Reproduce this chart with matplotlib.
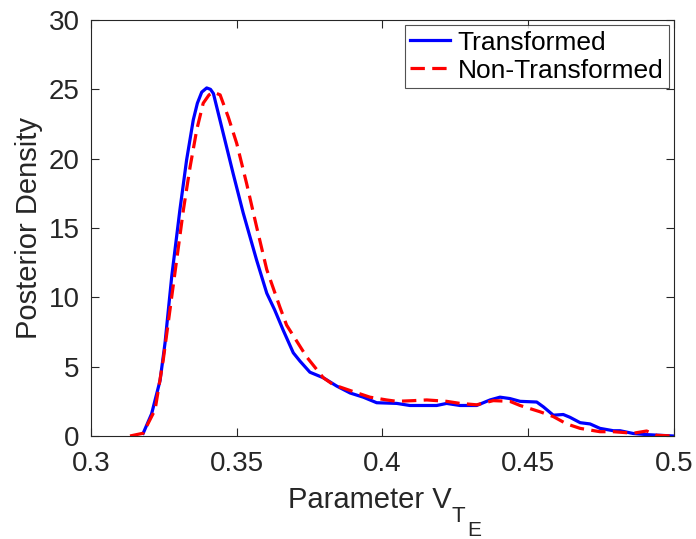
import matplotlib
matplotlib.use("Agg")
import matplotlib.pyplot as plt

plt.rcParams['font.family'] = ['Liberation Sans', 'DejaVu Sans']

# Transformed posterior (blue, solid)
x_tr = [0.3179, 0.3208, 0.3237, 0.3254, 0.3277, 0.3305, 0.3328, 0.3351, 0.3365,
        0.3380, 0.3397, 0.3410, 0.3420, 0.3454, 0.3488, 0.3522, 0.3568, 0.3603,
        0.3630, 0.3660, 0.3694, 0.3717, 0.3751, 0.3797, 0.3843, 0.3889, 0.3934,
        0.3980, 0.4049, 0.4094, 0.4186, 0.4220, 0.4266, 0.4323, 0.4369, 0.4403,
        0.4437, 0.4472, 0.4529, 0.4552, 0.4586, 0.4620, 0.4643, 0.4678, 0.4712,
        0.4746, 0.4792, 0.4815, 0.4860, 0.4906, 0.4998]
y_tr = [0.19, 1.6, 4.0, 6.7, 11.5, 16.3, 19.9, 22.8, 24.0,
        24.8, 25.1, 25.0, 24.7, 21.8, 18.9, 16.1, 12.7, 10.3,
        9.1, 7.6, 6.0, 5.4, 4.6, 4.2, 3.6, 3.1, 2.8,
        2.4, 2.35, 2.2, 2.2, 2.35, 2.2, 2.2, 2.6, 2.8,
        2.7, 2.5, 2.45, 2.1, 1.5, 1.55, 1.35, 0.96, 0.87,
        0.55, 0.38, 0.38, 0.18, 0.1, 0.0]

# Non-transformed posterior (red, dashed)
x_nt = [0.3134, 0.3179, 0.3220, 0.3248, 0.3271, 0.3294, 0.3317, 0.3340, 0.3363,
        0.3385, 0.3405, 0.3420, 0.3443, 0.3471, 0.3500, 0.3534, 0.3568, 0.3603,
        0.3648, 0.3671, 0.3740, 0.3797, 0.3831, 0.3900, 0.3957, 0.4014, 0.4049,
        0.4106, 0.4152, 0.4220, 0.4266, 0.4323, 0.4380, 0.4437, 0.4472, 0.4540,
        0.4586, 0.4632, 0.4678, 0.4746, 0.4792, 0.4860, 0.4906, 0.4940, 0.4998]
y_nt = [0.0, 0.2, 1.9, 5.5, 9.1, 12.7, 16.3, 19.4, 22.1,
        24.0, 24.6, 24.8, 24.6, 23.0, 21.1, 18.2, 15.1, 12.0,
        9.3, 8.0, 5.7, 4.2, 3.7, 3.2, 2.8, 2.6, 2.5,
        2.55, 2.6, 2.5, 2.35, 2.25, 2.55, 2.5, 2.2, 1.75,
        1.4, 0.87, 0.55, 0.31, 0.31, 0.2, 0.36, 0.05, 0.0]

xticks = [0.3, 0.35, 0.4, 0.45, 0.5]
xticklabels = ['0.3', '0.35', '0.4', '0.45', '0.5']
yticks = [0, 5, 10, 15, 20, 25, 30]

fig = plt.figure(figsize=(6.96, 5.39), dpi=100)
ax = fig.add_axes([0.1307, 0.1911, 0.8377, 0.7718])

ax.plot(x_tr, y_tr, color='#0000ff', lw=2.3, label='Transformed')
ax.plot(x_nt, y_nt, color='#ff0000', lw=2.3, ls=(0, (4.5, 2.3)), label='Non-Transformed')

ax.set_xlim(0.3, 0.5)
ax.set_ylim(0, 30)
ax.set_xticks(xticks)
ax.set_xticklabels(xticklabels)
ax.set_yticks(yticks)

axis_col = '#262626'
for s in ax.spines.values():
    s.set_color(axis_col)
    s.set_linewidth(0.8)
ax.tick_params(direction='in', length=6, width=0.8, colors=axis_col,
               labelsize=20, top=True, right=True)
ax.tick_params(axis='x', pad=11)
ax.tick_params(axis='y', pad=8)

# x label: "Parameter V" with stacked subscripts T and E (MATLAB style)
ax.set_xlabel('Parameter V', fontsize=21, color=axis_col, ha='right', va='baseline')
ax.xaxis.set_label_coords(0.619, -0.173)
ax.text(0.619, -0.207, 'T', transform=ax.transAxes, fontsize=16, color=axis_col,
        ha='left', va='baseline', clip_on=False)
ax.text(0.645, -0.241, 'E', transform=ax.transAxes, fontsize=15, color=axis_col,
        ha='left', va='baseline', clip_on=False)
ax.set_ylabel('Posterior Density', fontsize=21, color=axis_col, labelpad=4)

leg = ax.legend(loc='upper right', fontsize=19, frameon=True, fancybox=False,
                edgecolor=axis_col, borderpad=0.2, handlelength=1.5,
                handletextpad=0.3, labelspacing=0.15, borderaxespad=0.2)
leg.get_frame().set_linewidth(0.8)

fig.savefig('out.png', dpi=100)
